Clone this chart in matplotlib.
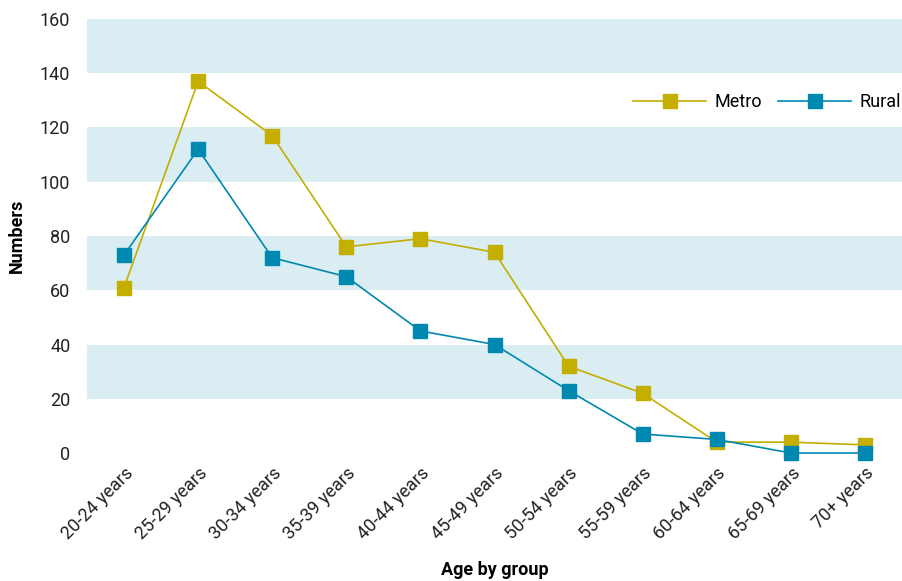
import matplotlib
matplotlib.use("Agg")
import matplotlib.pyplot as plt

# Data
age_groups = ["20-24 years", "25-29 years", "30-34 years", "35-39 years",
              "40-44 years", "45-49 years", "50-54 years", "55-59 years",
              "60-64 years", "65-69 years", "70+ years"]
metro = [61, 137, 117, 76, 79, 74, 32, 22, 4, 4, 3]
rural = [73, 112, 72, 65, 45, 40, 23, 7, 5, 0, 0]
y_ticks = [0, 20, 40, 60, 80, 100, 120, 140, 160]
bands = [(20, 40), (60, 80), (100, 120), (140, 160)]

METRO_COL = "#C4AE00"
RURAL_COL = "#0089B0"
BAND_COL = "#DAEDF2"

plt.rcParams['font.family'] = ['Roboto', 'DejaVu Sans']

fig = plt.figure(figsize=(9.02, 5.81), dpi=100)
ax = fig.add_axes([87 / 902, 1 - 453 / 581, 1 - 87 / 902, (453 - 19) / 581])

for lo, hi in bands:
    ax.axhspan(lo, hi, color=BAND_COL, lw=0, zorder=0)

x = list(range(len(age_groups)))
ax.plot(x, metro, color=METRO_COL, lw=1.2, marker='s', markersize=9.5,
        label='Metro', zorder=3, clip_on=False)
ax.plot(x, rural, color=RURAL_COL, lw=1.2, marker='s', markersize=9.5,
        label='Rural', zorder=4, clip_on=False)

ax.set_xlim(-0.5, len(age_groups) - 0.5)
ax.set_ylim(0, 160)
ax.set_yticks(y_ticks)
ax.set_xticks(x)
ax.set_xticklabels(age_groups, rotation=45, ha='right', rotation_mode='anchor')
ax.tick_params(axis='both', length=0, labelsize=13, colors='#222222')
ax.tick_params(axis='y', pad=12)
ax.tick_params(axis='x', pad=8)

for s in ax.spines.values():
    s.set_visible(False)

ax.set_xlabel("Age by group", fontsize=13, fontweight='bold', va='center')
ax.xaxis.set_label_coords(0.5, (453 - 570) / 434)
ax.set_ylabel("Numbers", fontsize=13, fontweight='bold', labelpad=10)

ax.legend(loc='upper right', bbox_to_anchor=(1.019, 0.867), ncol=2, frameon=False,
          fontsize=13, handlelength=4.0, columnspacing=0.9, handletextpad=0.5)

fig.savefig("out.png", dpi=100)
